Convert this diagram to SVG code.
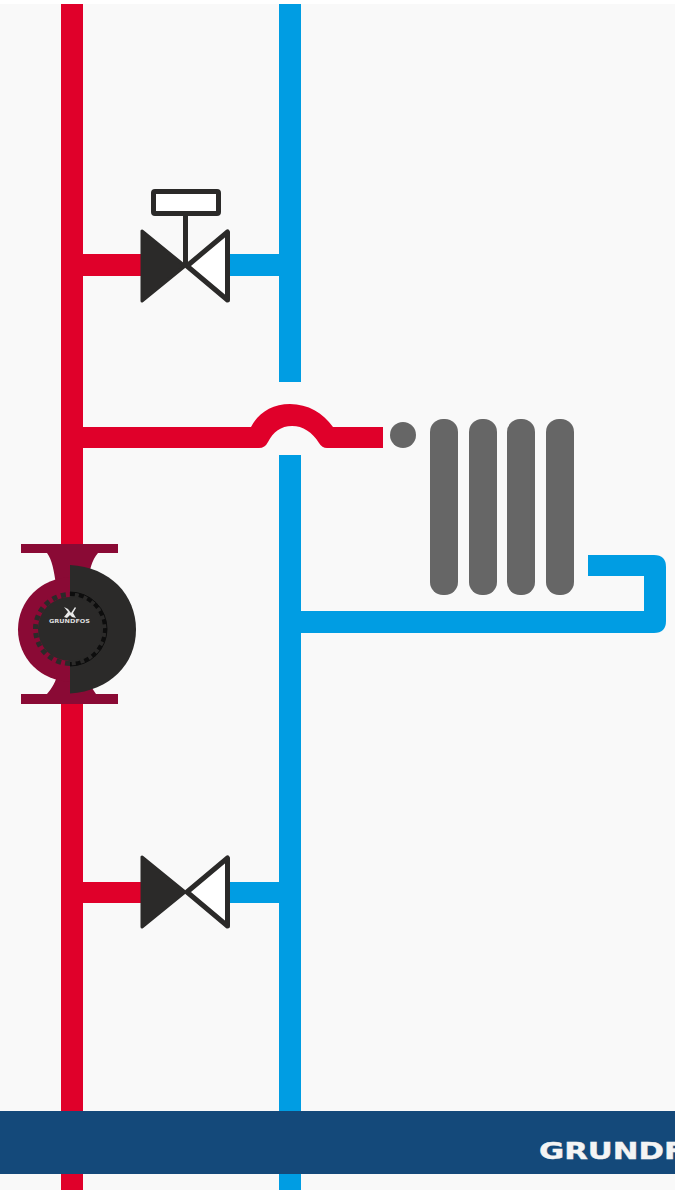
<svg xmlns="http://www.w3.org/2000/svg" width="675" height="1190" viewBox="0 0 675 1190">
<style>
.red{fill:#e0002a}
.blue{fill:#009de3}
.dark{fill:#2b2a29}
.hollow{fill:#fff;stroke:#2b2a29;stroke-width:5;stroke-linejoin:round}
.bar{fill:#666;width:28px;height:176px;rx:13px;ry:13px}
.logo{font-family:"DejaVu Sans","Liberation Sans",sans-serif;font-weight:700;fill:#f4f4f4}
</style>
<rect width="675" height="1190" fill="#fff"/>
<rect y="4" width="675" height="1186" fill="#f9f9f9"/>
<g id="connectors">
<rect class="red" x="61" y="4" width="22" height="1186"/>
<rect class="blue" x="279" y="4" width="22" height="378"/>
<rect class="blue" x="279" y="455" width="22" height="735"/>
<rect class="red" x="83" y="254" width="60" height="22"/>
<rect class="blue" x="228" y="254" width="52" height="22"/>
<rect class="red" x="83" y="882" width="60" height="21"/>
<rect class="blue" x="228" y="882" width="52" height="21"/>
<path class="red" d="M72 427H251C258 413 272 404 290 404C308 404 323 413 333 427H383V448H327Q322 448 319 443C312 432 303 426 292 426C281 426 273 432 268 442Q265 448 259 448H72Z"/>
<path class="blue" d="M301 611H644V576H588V555H654Q666 555 666 567V621Q666 633 654 633H301Z"/>
</g>
<g id="motorized-valve">
<rect class="hollow" x="153.500" y="191.500" width="65" height="22" rx="1.500"/>
<rect class="dark" x="183" y="214" width="5" height="52"/>
<path class="hollow" d="M227.500 232V300L187 266Z"/>
<path class="dark" stroke="#2b2a29" stroke-width="3" stroke-linejoin="round" d="M142 231V301L185 266Z"/>
</g>
<g id="radiator">
<circle cx="403" cy="435" r="13" fill="#666"/>
<rect class="bar" x="430" y="419"/>
<rect class="bar" x="469" y="419"/>
<rect class="bar" x="507" y="419"/>
<rect class="bar" x="546" y="419"/>
</g>
<g id="pump">
<path fill="#8a0a35" d="M21 544H118V553H98C92 560 89 570 88 585H56C54 570 52 560 47 553H21ZM21 704V694H47C52 688 56 682 58 672H86C88 682 92 688 96 694H118V704Z"/>
<circle cx="70" cy="629.500" r="52" fill="#8a0a35"/>
<path class="dark" d="M70 565C110 567 136 595 136 629.500C136 664 110 691 70 693.500Z"/>
<circle cx="70" cy="629" r="32" class="dark"/>
<path fill="none" stroke="#2b2a29" stroke-width="5" stroke-dasharray="5 4" d="M70 663.500A34.500 34.500 0 0 1 70 594.500"/>
<path fill="none" stroke="#0d0d0d" stroke-width="4" stroke-dasharray="5 4" d="M70 594A35 35 0 0 1 70 664"/>
<path fill="none" stroke="#0d0d0d" stroke-width="1" d="M70 592A37 37 0 0 1 70 666"/>
<path fill="#e8e8e8" d="M64 607L68 609L71 613L75 607L76 608L73 613L76 618L72 617L70 615L67 618L64 617L68 612Z"/>
<text class="logo" x="69.500" y="623" font-size="5.500" text-anchor="middle" textLength="41" lengthAdjust="spacingAndGlyphs" style="fill:#ddd">GRUNDFOS</text>
</g>
<g id="check-valve">
<path class="hollow" d="M227.500 858V926L187 892Z"/>
<path class="dark" stroke="#2b2a29" stroke-width="3" stroke-linejoin="round" d="M142 857V927L185 892Z"/>
</g>
<g id="footer">
<rect y="1111" width="675" height="63" fill="#14497a"/>
<text class="logo" x="539" y="1159" font-size="22.500" textLength="146" lengthAdjust="spacingAndGlyphs" stroke="#f4f4f4" stroke-width="0.400">GRUNDF</text>
</g>
</svg>
